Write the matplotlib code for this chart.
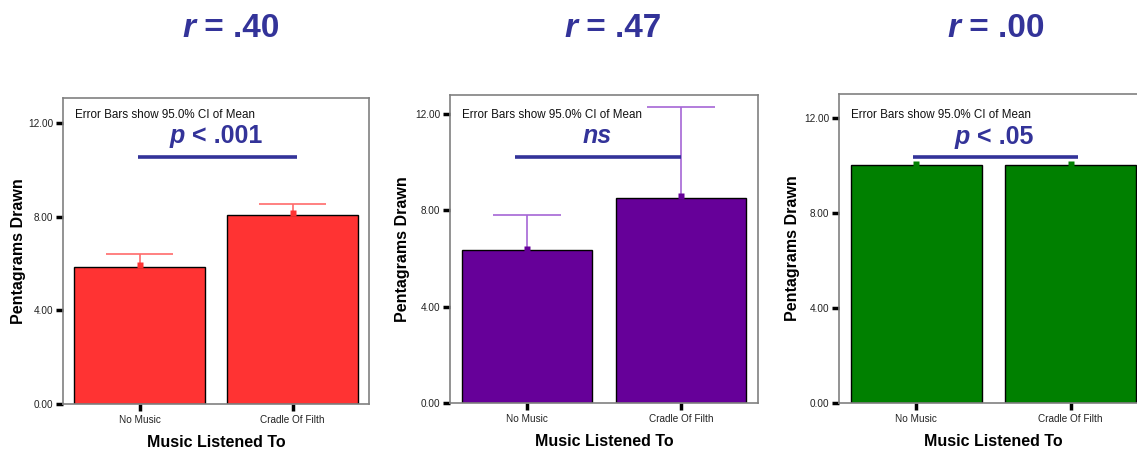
import numpy as np
import matplotlib
matplotlib.use("Agg")
import matplotlib.pyplot as plt

plt.rcParams['font.family'] = ['Liberation Sans', 'DejaVu Sans']

# data
groups = ['No Music', 'Cradle Of Filth']
means_a = [5.87, 8.10]
upper_a = [6.40, 8.56]
means_b = [6.35, 8.52]
upper_b = [7.81, 12.30]
means_c = [10.0, 10.0]
upper_c = [10.0, 10.0]
r_labels = ['.40', '.47', '.00']
p_labels = [('p', ' < .001'), ('ns', ''), ('p', ' < .05')]
y_ticks = [0, 4, 8, 12]

W, H = 1137, 451
fig = plt.figure(figsize=(W / 100, H / 100), dpi=100)

def px(x, y):
    return x / W, 1 - y / H

def add_axes(left, top, right, bottom):
    return fig.add_axes([left / W, 1 - bottom / H, (right - left) / W, (bottom - top) / H])

BLUE = '#333399'
panels = [
    dict(box=(63, 98, 369, 404), ylim=13.08, means=means_a, upper=upper_a,
         bar='#ff3333', err='#ff6b6b', sig=(-0.01, 1.03, 10.55),
         title_x=182, p_x=170, p_y=143, ylab=-0.12),
    dict(box=(450, 95, 758, 403), ylim=12.78, means=means_b, upper=upper_b,
         bar='#660099', err='#a566d6', sig=(-0.08, 1.0, 10.2),
         title_x=564, p_x=583, p_y=143, ylab=-0.13),
    dict(box=(839, 94, 1148, 403), ylim=13.0, means=means_c, upper=upper_c,
         bar='#008000', err='#2e9a2e', sig=(-0.02, 1.05, 10.35),
         title_x=947, p_x=955, p_y=144, ylab=-0.126),
]

x = np.arange(len(groups))
for i, p in enumerate(panels):
    ax = add_axes(*p['box'])
    ax.bar(x, p['means'], width=0.85, color=p['bar'], edgecolor='black', linewidth=1, zorder=2)

    # upper half of the CI only (lower half hides inside the bar)
    m = np.array(p['means'])
    u = np.array(p['upper'])
    show = u > m
    ax.vlines(x[show], m[show], u[show], color=p['err'], lw=1.2, zorder=3)
    ax.hlines(u[show], x[show] - 0.22, x[show] + 0.22, color=p['err'], lw=1.2, zorder=3)
    ax.plot(x, m + 0.06, ls='none', marker='s', ms=4.5, mec='none', color=p['bar'], zorder=4)

    x0, x1, ys = p['sig']
    ax.plot([x0, x1], [ys, ys], color=BLUE, lw=2.6, solid_capstyle='butt', zorder=5)

    ax.set_xlim(-0.5, 1.5)
    ax.set_ylim(0, p['ylim'])
    ax.set_yticks(y_ticks)
    ax.set_yticklabels([f'{v:.2f}' for v in y_ticks])
    ax.set_xticks(x)
    ax.set_xticklabels(groups)
    ax.tick_params(axis='both', length=5, width=2.5, color='black', labelsize=7.2,
                   labelcolor='#222222', pad=2)
    ax.tick_params(axis='x', pad=3)
    for s in ax.spines.values():
        s.set_color('#808080')
        s.set_linewidth(1.2)

    ax.set_ylabel('Pentagrams Drawn', fontsize=11.5, fontweight='bold')
    ax.yaxis.set_label_coords(p['ylab'], 0.5)
    ax.set_xlabel('Music Listened To', fontsize=11.5, fontweight='bold')
    ax.xaxis.set_label_coords(0.5, -0.10)

    left = p['box'][0]
    fig.text(*px(left + 12, 118), 'Error Bars show 95.0% CI of Mean', fontsize=8.4,
             color='#111111', va='baseline')

    # r title
    t = fig.text(*px(p['title_x'], 37), 'r', fontsize=24, fontweight='bold',
                 fontstyle='italic', color=BLUE, va='baseline')
    ax.annotate(' = ' + r_labels[i], xy=(1, 0), xycoords=t, va='bottom', ha='left',
                fontsize=24, fontweight='bold', color=BLUE, annotation_clip=False)

    # p label
    a, b = p_labels[i]
    tp = fig.text(*px(p['p_x'], p['p_y']), a, fontsize=18, fontweight='bold',
                  fontstyle='italic', color=BLUE, va='baseline')
    if b:
        ax.annotate(b, xy=(1, 0), xycoords=tp, va='bottom', ha='left',
                    fontsize=18, fontweight='bold', color=BLUE, annotation_clip=False)

fig.savefig('out.png', dpi=100)
